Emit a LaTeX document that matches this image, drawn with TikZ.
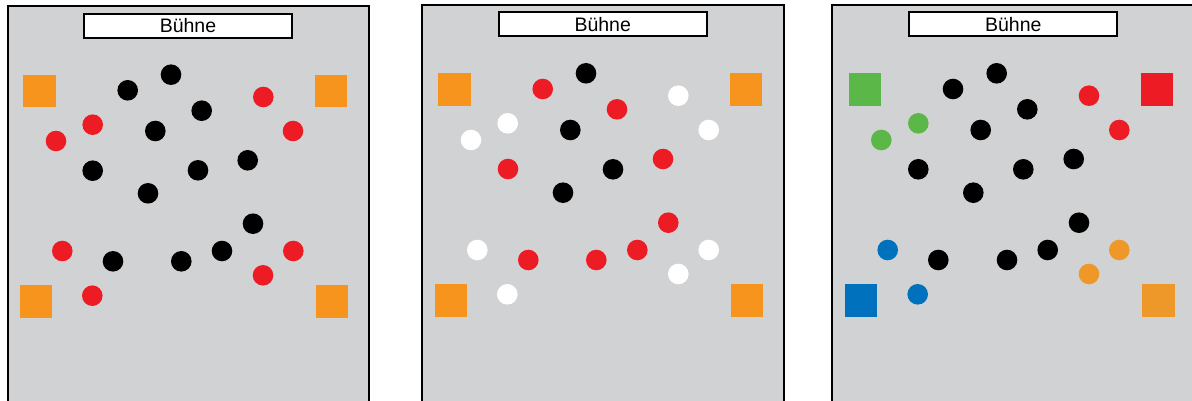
\documentclass[tikz,border=0pt]{standalone}
\usepackage{fontspec}
\setmainfont{Liberation Sans}
\definecolor{panelgray}{HTML}{D1D2D4}
\definecolor{orangeA}{HTML}{F7941D}
\definecolor{orangeB}{HTML}{EF982A}
\definecolor{redc}{HTML}{ED1C24}
\definecolor{greenc}{HTML}{5BB848}
\definecolor{bluec}{HTML}{0071BC}
\tikzset{
  panel/.style={draw=black, fill=panelgray, line width=2pt, rectangle, anchor=north west, inner sep=0pt, outer sep=0pt},
  stage/.style={draw=black, fill=white, line width=2pt, rectangle, minimum width=208pt, minimum height=24pt, inner sep=0pt, font=\fontsize{19.5}{20}\selectfont},
  dot/.style={circle, minimum size=20.6pt, inner sep=0pt, draw=none},
  sq/.style={rectangle, minimum size=32.3pt, inner sep=0pt, draw=none},
}
\begin{document}
\begin{tikzpicture}[x=1pt, y=-1pt]
\useasboundingbox (0,0) rectangle (1192,401);
\clip (0,0) rectangle (1192,401);
% panels
\node[panel, minimum width=361pt, minimum height=420pt] (p1) at (7.5,6) {};
\node[panel, minimum width=362pt, minimum height=420pt] (p2) at (422,5) {};
\node[panel, minimum width=362pt, minimum height=420pt] (p3) at (832,5) {};
% stages
\node[stage] (s1) at (188,26) {Bühne};
\node[stage] (s2) at (602.7,24.5) {Bühne};
\node[stage] (s3) at (1013.3,24.5) {Bühne};
% ---------- panel 1
\foreach \x/\y [count=\i] in {39.5/91, 331/91, 36/301.5, 332/301.5}
  \node[sq, fill=orangeA] (a-sq\i) at (\x,\y) {};
\foreach \x/\y [count=\i] in {171/74.7, 127.7/90.3, 201.7/110.7, 155.3/131, 92.7/170.7, 198/170.3, 247.7/160.3, 148/193.3, 253/223.7, 113/261.3, 181.3/261.3, 222/251}
  \node[dot, fill=black] (a-b\i) at (\x,\y) {};
\foreach \x/\y [count=\i] in {263.3/97, 293/131, 92.7/124.7, 56/141, 62.3/251, 293.3/251, 263/275.3, 92.3/295.7}
  \node[dot, fill=redc] (a-r\i) at (\x,\y) {};
% ---------- panel 2
\foreach \x/\y [count=\i] in {454.5/89.5, 746.2/89.5, 451.2/300.5, 747.3/300.5}
  \node[sq, fill=orangeA] (b-sq\i) at (\x,\y) {};
\foreach \x/\y [count=\i] in {586/73.3, 570.3/130, 613/169.3, 563/192.7}
  \node[dot, fill=black] (b-b\i) at (\x,\y) {};
\foreach \x/\y [count=\i] in {542.7/89, 617/109.3, 508/169, 663/159, 668.3/222.7, 528.3/260, 596.3/260, 637.3/250}
  \node[dot, fill=redc] (b-r\i) at (\x,\y) {};
\foreach \x/\y [count=\i] in {678.3/95.7, 708.7/130, 507.7/123.3, 471/140, 477.3/250, 708.7/250, 678.3/274, 507.3/294.3}
  \node[dot, fill=white] (b-w\i) at (\x,\y) {};
% ---------- panel 3
\node[sq, fill=greenc] (c-sqg) at (864.8,89.5) {};
\node[sq, fill=redc] (c-sqr) at (1157.2,89.5) {};
\node[sq, fill=bluec] (c-sqb) at (861.2,300.5) {};
\node[sq, fill=orangeB] (c-sqo) at (1158.5,300.5) {};
\foreach \x/\y [count=\i] in {996.7/73.3, 953/89, 1027.3/109.3, 980.7/130, 918.3/169.3, 1023.3/169.3, 1073.7/159, 973.3/192.7, 1079/222.7, 938.3/260, 1007/260, 1047.7/250}
  \node[dot, fill=black] (c-b\i) at (\x,\y) {};
\foreach \x/\y [count=\i] in {1089/95.7, 1119.3/130}
  \node[dot, fill=redc] (c-r\i) at (\x,\y) {};
\foreach \x/\y [count=\i] in {918.3/123.3, 881.3/140}
  \node[dot, fill=greenc] (c-g\i) at (\x,\y) {};
\foreach \x/\y [count=\i] in {887.7/250, 917.7/294.3}
  \node[dot, fill=bluec] (c-bl\i) at (\x,\y) {};
\foreach \x/\y [count=\i] in {1119.3/250, 1089/274}
  \node[dot, fill=orangeB] (c-o\i) at (\x,\y) {};
\end{tikzpicture}
\end{document}
